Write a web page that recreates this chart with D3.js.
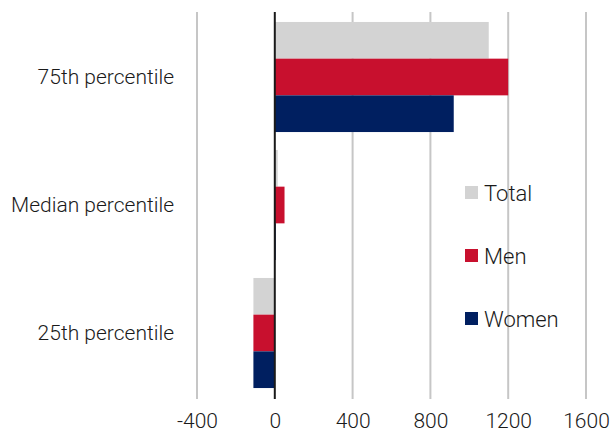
<!DOCTYPE html>
<html>
<head>
<meta charset="utf-8">
<script src="https://cdn.jsdelivr.net/npm/d3@7"></script>
<style>
  html, body { margin: 0; padding: 0; background: #fff; }
  svg { display: block; }
  text { font-family: Roboto, "Open Sans", sans-serif; font-weight: 300; fill: #1a1a1a; }
</style>
</head>
<body>
<svg id="chart" width="611" height="434"></svg>
<script>
// Percentile groups, top to bottom
const categories = ["75th percentile", "Median percentile", "25th percentile"];
const seriesNames = ["Total", "Men", "Women"];
const totalValues = [1100, 15, -110];
const menValues = [1200, 50, -110];
const womenValues = [920, 5, -110];
const tickValues = [-400, 0, 400, 800, 1200, 1600];
const colors = ["#d3d3d3", "#c8102e", "#001f60"];

const seriesValues = [totalValues, menValues, womenValues];

const svg = d3.select("#chart");
const margin = { top: 13, right: 25, bottom: 37, left: 197 };
const height = 434 - margin.top - margin.bottom;

const x = d3.scaleLinear().domain([-400, 1600]).range([0, 389]);
const y0 = d3.scaleBand().domain(categories).range([0, height]).paddingInner(0.14).paddingOuter(0.07);
const y1 = d3.scaleBand().domain(seriesNames).range([0, y0.bandwidth()]);

const g = svg.append("g").attr("transform", `translate(${margin.left},${margin.top})`);

// vertical gridlines
g.selectAll("line.grid")
  .data(tickValues.filter(d => d !== 0))
  .join("line")
  .attr("class", "grid")
  .attr("x1", d => x(d)).attr("x2", d => x(d))
  .attr("y1", -1).attr("y2", height + 2)
  .attr("stroke", "#c6c6c6").attr("stroke-width", 2);

// bars
const rows = [];
categories.forEach((c, i) => {
  seriesNames.forEach((s, j) => {
    rows.push({ cat: c, series: s, value: seriesValues[j][i], color: colors[j] });
  });
});

g.selectAll("rect.bar")
  .data(rows)
  .join("rect")
  .attr("class", "bar")
  .attr("x", d => x(Math.min(0, d.value)))
  .attr("width", d => Math.abs(x(d.value) - x(0)))
  .attr("y", d => y0(d.cat) + y1(d.series))
  .attr("height", y1.bandwidth())
  .attr("fill", d => d.color);

// zero axis line
g.append("line")
  .attr("x1", x(0)).attr("x2", x(0))
  .attr("y1", -1).attr("y2", height + 2)
  .attr("stroke", "#1a1a1a").attr("stroke-width", 2);

// x axis tick labels (plain hyphen for negatives)
const xAxis = g.append("g")
  .attr("transform", `translate(0,${height})`)
  .call(d3.axisBottom(x).tickValues(tickValues).tickSize(0).tickFormat(d => String(d)))
  .call(a => a.select(".domain").remove());
xAxis.selectAll("text")
  .attr("y", 31)
  .attr("dy", null)
  .style("font-size", "21px")
  .attr("fill", "#1a1a1a");

// category labels
g.selectAll("text.cat")
  .data(categories)
  .join("text")
  .attr("class", "cat")
  .attr("x", -23)
  .attr("y", d => y0(d) + y0.bandwidth() / 2)
  .attr("dy", "0.35em")
  .attr("text-anchor", "end")
  .style("font-size", "21px")
  .text(d => d);

// legend
const legend = svg.append("g").attr("transform", "translate(465,186)");
seriesNames.forEach((s, i) => {
  const row = legend.append("g").attr("transform", `translate(0,${i * 63})`);
  row.append("rect").attr("width", 13).attr("height", 13).attr("fill", colors[i]);
  row.append("text").attr("x", 19).attr("y", 7).attr("dy", "0.35em")
    .style("font-size", "22px").text(s);
});
</script>
</body>
</html>
